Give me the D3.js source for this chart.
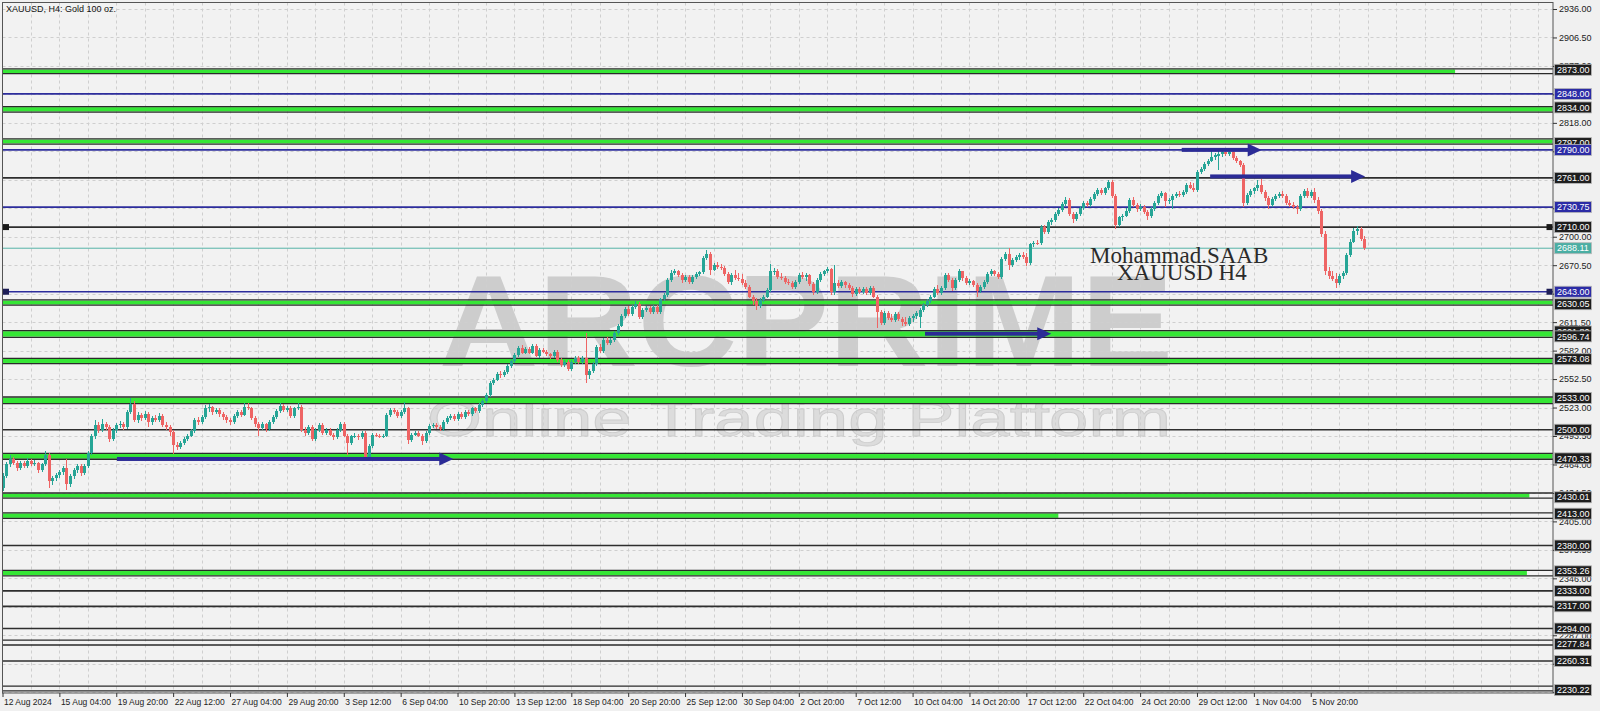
<!DOCTYPE html>
<html><head><meta charset="utf-8">
<script src="https://cdn.jsdelivr.net/npm/d3@7"></script>
<style>html,body{margin:0;padding:0;background:#f0f0f0;overflow:hidden}svg{display:block}</style>
</head><body>
<svg id="c" width="1600" height="711"></svg>
<script>
const title = "XAUUSD, H4:  Gold 100 oz.";
const timeLabels = ["12 Aug 2024","15 Aug 04:00","19 Aug 20:00","22 Aug 12:00","27 Aug 04:00","29 Aug 20:00","3 Sep 12:00","6 Sep 04:00","10 Sep 20:00","13 Sep 12:00","18 Sep 04:00","20 Sep 20:00","25 Sep 12:00","30 Sep 04:00","2 Oct 20:00","7 Oct 12:00","10 Oct 04:00","14 Oct 20:00","17 Oct 12:00","22 Oct 04:00","24 Oct 20:00","29 Oct 12:00","1 Nov 04:00","5 Nov 20:00"];
const barsPerLabel = 16;
const priceTicks = [2936.00,2906.50,2877.00,2847.50,2818.00,2788.50,2759.00,2729.50,2700.00,2670.50,2641.00,2611.50,2582.00,2552.50,2523.00,2493.50,2464.00,2434.50,2405.00,2375.50,2346.00,2316.50,2287.00,2257.50,2228.00];
// [open, high, low, close] per H4 bar
const ohlc = [
[2440,2455,2437,2452],[2452,2467,2450,2464],[2464,2474,2461,2470],[2470,2472,2463,2466],[2466,2468,2457,2460],[2460,2468,2458,2466],
[2466,2468,2460,2462],[2462,2471,2460,2468],[2468,2470,2462,2464],[2464,2469,2462,2466],[2466,2467,2455,2458],[2458,2466,2456,2464],
[2464,2478,2462,2474],[2474,2476,2440,2447],[2447,2452,2443,2450],[2450,2455,2447,2453],[2453,2458,2450,2456],[2456,2462,2453,2460],
[2460,2470,2438,2444],[2444,2454,2441,2452],[2452,2460,2449,2458],[2458,2464,2455,2462],[2462,2464,2452,2455],[2455,2464,2453,2462],
[2462,2478,2460,2476],[2476,2496,2474,2493],[2493,2510,2490,2505],[2505,2508,2497,2500],[2500,2511,2498,2506],[2506,2508,2500,2503],
[2503,2505,2487,2490],[2490,2502,2488,2500],[2500,2507,2497,2505],[2505,2509,2502,2506],[2506,2508,2500,2503],[2503,2520,2501,2518],
[2518,2533,2516,2527],[2527,2530,2508,2510],[2510,2518,2507,2515],[2515,2517,2509,2512],[2512,2519,2510,2516],[2516,2518,2503,2508],
[2508,2514,2505,2512],[2512,2515,2508,2510],[2510,2517,2508,2514],[2514,2516,2503,2505],[2505,2508,2500,2503],[2503,2505,2494,2498],
[2498,2500,2475,2484],[2484,2487,2479,2482],[2482,2488,2480,2486],[2486,2492,2484,2490],[2490,2496,2488,2494],[2494,2501,2492,2499],
[2499,2512,2497,2510],[2510,2513,2505,2508],[2508,2515,2506,2513],[2513,2526,2511,2522],[2522,2527,2518,2524],[2524,2525,2515,2518],
[2518,2523,2516,2520],[2520,2522,2513,2516],[2516,2518,2510,2513],[2513,2515,2507,2510],
[2510,2512,2505,2508],[2508,2516,2506,2514],[2514,2520,2512,2518],[2518,2520,2513,2515],[2515,2528,2514,2524],[2524,2528,2520,2522],
[2522,2524,2510,2512],[2512,2514,2503,2506],[2506,2508,2493,2502],[2502,2508,2500,2506],[2506,2507,2498,2501],[2501,2510,2499,2508],
[2508,2515,2506,2513],[2513,2521,2511,2519],[2519,2528,2517,2525],[2525,2527,2518,2520],[2520,2525,2518,2523],[2523,2525,2512,2514],
[2514,2524,2512,2522],[2522,2528,2520,2524],[2524,2526,2498,2500],[2500,2503,2494,2497],[2497,2505,2495,2503],[2503,2505,2488,2490],
[2490,2502,2488,2500],[2500,2507,2498,2505],[2505,2507,2495,2497],[2497,2502,2495,2500],[2500,2502,2493,2495],[2495,2497,2489,2492],
[2492,2502,2490,2500],[2500,2508,2498,2506],[2506,2508,2492,2494],[2494,2496,2474,2486],[2486,2495,2484,2493],[2493,2497,2491,2494],
[2494,2496,2489,2492],[2492,2499,2490,2497],[2497,2499,2470,2472],[2472,2485,2470,2483],[2483,2497,2481,2495],[2495,2497,2492,2494],
[2494,2496,2491,2493],[2493,2496,2491,2494],[2494,2517,2492,2515],[2515,2522,2513,2520],[2520,2522,2516,2518],[2518,2520,2512,2514],
[2514,2520,2512,2518],[2518,2529,2516,2522],[2522,2524,2485,2489],[2489,2497,2487,2495],[2495,2499,2493,2497],[2497,2499,2492,2494],
[2494,2496,2484,2488],[2488,2499,2486,2497],[2497,2506,2495,2504],[2504,2507,2502,2505],[2505,2507,2501,2503],[2503,2505,2499,2501],
[2501,2510,2499,2508],[2508,2514,2506,2512],[2512,2516,2510,2514],
[2514,2516,2509,2511],[2511,2518,2509,2516],[2516,2518,2511,2513],[2513,2520,2511,2518],[2518,2520,2514,2516],[2516,2524,2514,2522],
[2522,2524,2517,2519],[2519,2528,2517,2526],[2526,2532,2524,2530],[2530,2538,2528,2536],[2536,2550,2534,2548],[2548,2554,2546,2552],
[2552,2560,2550,2558],[2558,2561,2554,2557],[2557,2562,2555,2560],[2560,2568,2558,2566],[2566,2573,2564,2571],[2571,2579,2569,2577],
[2577,2587,2575,2585],[2585,2588,2578,2580],[2580,2586,2578,2584],[2584,2586,2578,2580],[2580,2589,2578,2587],[2587,2589,2575,2576],
[2576,2585,2574,2583],[2583,2585,2579,2581],[2581,2583,2576,2578],[2578,2580,2573,2576],[2576,2583,2574,2581],[2581,2583,2570,2572],
[2572,2574,2565,2567],[2567,2572,2565,2570],[2570,2572,2561,2563],[2563,2572,2561,2570],[2570,2576,2568,2574],[2574,2576,2568,2570],
[2570,2576,2568,2574],[2574,2600,2548,2557],[2557,2563,2553,2561],[2561,2570,2559,2568],[2568,2588,2566,2586],[2586,2589,2580,2582],
[2582,2595,2580,2593],[2593,2596,2588,2590],[2590,2595,2588,2593],[2593,2602,2591,2600],[2600,2610,2598,2608],[2608,2620,2606,2618],
[2618,2627,2616,2625],[2625,2628,2618,2620],[2620,2629,2618,2627],[2627,2633,2625,2630],[2630,2632,2615,2617],[2617,2626,2615,2624],
[2624,2628,2622,2626],[2626,2628,2620,2622],[2622,2629,2620,2627],[2627,2629,2620,2622],[2622,2637,2620,2635],[2635,2642,2633,2640],
[2640,2657,2638,2655],[2655,2666,2653,2662],[2662,2667,2660,2664],[2664,2666,2658,2660],
[2660,2662,2652,2655],[2655,2660,2653,2658],[2658,2660,2651,2653],[2653,2660,2651,2658],[2658,2663,2656,2661],[2661,2665,2659,2663],
[2663,2680,2661,2678],[2678,2686,2676,2682],[2682,2684,2660,2666],[2666,2673,2664,2671],[2671,2674,2667,2669],[2669,2672,2666,2668],
[2668,2670,2659,2661],[2661,2663,2651,2653],[2653,2662,2650,2660],[2660,2666,2655,2657],[2657,2662,2654,2656],[2656,2661,2650,2652],
[2652,2655,2646,2648],[2648,2650,2636,2638],[2638,2640,2629,2633],[2633,2636,2624,2628],[2628,2636,2626,2634],[2634,2640,2632,2638],
[2638,2647,2636,2645],[2645,2672,2643,2664],[2664,2668,2660,2665],[2665,2667,2656,2658],[2658,2662,2655,2657],[2657,2659,2651,2653],
[2653,2656,2650,2652],[2652,2654,2646,2648],[2648,2655,2646,2653],[2653,2662,2651,2660],[2660,2663,2656,2658],[2658,2662,2654,2660],
[2660,2661,2649,2651],[2651,2653,2640,2643],[2643,2657,2641,2655],[2655,2663,2653,2661],[2661,2666,2659,2664],[2664,2669,2662,2667],
[2667,2668,2640,2643],[2643,2671,2640,2652],[2652,2655,2647,2649],[2649,2655,2647,2653],[2653,2654,2647,2650],[2650,2652,2645,2647],
[2647,2649,2638,2641],[2641,2648,2639,2646],[2646,2648,2641,2643],[2643,2648,2641,2646],[2646,2648,2640,2642],[2642,2649,2640,2647],
[2647,2649,2636,2638],[2638,2640,2605,2622],[2622,2624,2609,2611],[2611,2623,2609,2621],[2621,2623,2614,2616],[2616,2620,2612,2614],
[2614,2622,2612,2620],[2620,2622,2613,2615],[2615,2617,2608,2612],[2612,2617,2607,2610],
[2610,2618,2608,2616],[2616,2620,2612,2618],[2618,2623,2615,2621],[2617,2626,2605,2624],[2624,2631,2622,2629],[2629,2635,2627,2633],
[2633,2640,2631,2638],[2638,2648,2636,2646],[2646,2650,2640,2642],[2642,2649,2640,2647],[2647,2662,2645,2660],[2660,2662,2653,2655],
[2655,2657,2644,2647],[2647,2657,2645,2655],[2655,2667,2653,2664],[2664,2665,2654,2657],[2657,2659,2650,2652],[2652,2656,2650,2654],
[2654,2655,2648,2650],[2650,2652,2638,2644],[2644,2650,2642,2648],[2648,2655,2646,2653],[2653,2663,2651,2661],[2661,2667,2659,2665],
[2665,2666,2659,2661],[2661,2663,2656,2658],[2658,2679,2656,2677],[2677,2684,2675,2682],[2682,2688,2666,2671],[2671,2678,2669,2676],
[2676,2681,2674,2679],[2679,2683,2676,2681],[2681,2684,2677,2679],[2679,2683,2670,2673],[2673,2694,2671,2692],[2692,2696,2689,2694],
[2694,2697,2691,2693],[2693,2712,2691,2710],[2710,2712,2703,2705],[2705,2717,2703,2715],[2715,2719,2712,2717],[2717,2726,2715,2724],
[2724,2730,2722,2728],[2728,2736,2726,2734],[2734,2741,2732,2738],[2738,2740,2722,2724],[2724,2726,2714,2718],[2718,2726,2716,2724],
[2724,2732,2722,2730],[2730,2737,2728,2735],[2735,2737,2731,2733],[2733,2741,2731,2739],[2739,2746,2737,2744],[2744,2750,2742,2748],
[2748,2750,2743,2745],[2745,2752,2743,2750],[2750,2759,2748,2757],[2757,2759,2740,2742],[2742,2744,2708,2712],[2712,2722,2710,2720],
[2720,2724,2716,2722],[2722,2730,2720,2727],
[2727,2740,2725,2738],[2738,2741,2731,2733],[2733,2735,2726,2729],[2729,2734,2727,2731],[2731,2733,2724,2726],[2726,2728,2717,2721],
[2721,2731,2719,2729],[2729,2737,2727,2735],[2735,2744,2733,2742],[2742,2747,2740,2745],[2745,2746,2731,2737],[2737,2740,2734,2738],
[2738,2744,2729,2742],[2742,2746,2740,2744],[2744,2747,2741,2743],[2743,2748,2741,2746],[2746,2756,2744,2754],[2754,2757,2749,2751],
[2751,2756,2746,2748],[2748,2769,2746,2767],[2767,2772,2765,2770],[2770,2777,2768,2775],[2775,2781,2773,2779],[2779,2790,2777,2783],
[2783,2787,2780,2785],[2784,2789,2769,2786],[2786,2790,2783,2788],[2788,2790,2784,2786],[2786,2790,2784,2788],[2788,2789,2780,2782],
[2782,2784,2776,2778],[2778,2780,2772,2774],[2774,2776,2731,2735],[2735,2745,2733,2743],[2743,2749,2741,2747],[2747,2752,2744,2750],
[2750,2759,2747,2754],[2754,2760,2744,2746],[2746,2748,2737,2740],[2740,2742,2729,2733],[2733,2741,2731,2739],[2739,2744,2737,2742],
[2742,2746,2740,2744],[2744,2747,2740,2742],[2742,2744,2733,2735],[2735,2738,2731,2733],[2733,2736,2729,2731],[2731,2733,2724,2729],
[2729,2744,2727,2742],[2742,2749,2740,2747],[2747,2750,2740,2742],[2742,2748,2740,2746],[2746,2750,2735,2738],[2738,2741,2724,2727],
[2727,2729,2700,2703],[2703,2706,2660,2664],[2664,2669,2656,2659],[2659,2664,2654,2656],[2656,2662,2647,2652],[2652,2661,2650,2659],
[2659,2664,2656,2662],[2662,2683,2660,2681],[2681,2698,2679,2695],[2695,2709,2693,2706],[2706,2711,2702,2708],[2708,2710,2696,2698],
[2698,2701,2686,2688.11]
];
// support / resistance zones (two lines with green fill between)
const zoneHigh = [2873.00,2834.00,2800.40,2633.60,2601.80,2573.08,2533.00,2474.50,2433.50,2413.00,2353.26,2281.00,2233.40];
const zoneLow  = [2870.00,2830.05,2797.00,2630.05,2596.74,2569.50,2528.00,2470.33,2430.01,2409.00,2349.50,2277.84,2230.22];
const zoneGreenTo = [408.6,436,436,436,436,436,436,436,429.5,297,428.8,0,0];
const blackLevels = [2761.00,2710.00,2500.00,2380.00,2333.00,2317.00,2294.00,2260.31];
const blueLevels = [2848.00,2790.00,2730.75,2643.00];
const markedLevels = [2710.00,2643.00];
const bidPrice = 2688.11;
const blackLabels = [2873.00,2834.00,2797.00,2761.00,2710.00,2630.05,2601.80,2596.74,2573.08,2533.00,2500.00,2470.33,2430.01,2413.00,2380.00,2353.26,2333.00,2317.00,2294.00,2277.84,2260.31,2230.22];
const arrowPrice = [2469.7,2599.5,2790.0,2762.5];
const arrowFrom = [32.2,259.5,331.7,339.7];
const arrowTo = [126.8,295.0,354.2,383.3];
const watermark = "ARCPRIME", watermarkSub = "Online Trading Platform";
const authorLines = ["Mohammad.SAAB","XAUUSD H4"];

const svg = d3.select("#c");
const L = 2.5, R = 1553, T = 2.5, B = 693;
const x = d3.scaleLinear().domain([0,436]).range([2.5, 2.5 + 436*3.555]);
const y = d3.scaleLinear().domain([2936,2228]).range([9, 692.2]);
const fmt = d3.format(".2f");
const FONT = "'Liberation Sans', Arial, sans-serif";

svg.append("rect").attr("width",1600).attr("height",711).attr("fill","#f0f0f0");
svg.append("defs").append("clipPath").attr("id","plot").append("rect")
  .attr("x",L).attr("y",T).attr("width",R-L).attr("height",B-T);
const plot = svg.append("g").attr("clip-path","url(#plot)");
plot.append("rect").attr("x",L).attr("y",T).attr("width",R-L).attr("height",B-T).attr("fill","#f2f2f2");

// watermark
plot.append("text").attr("x",439).attr("y",366).attr("textLength",734).attr("lengthAdjust","spacingAndGlyphs")
  .attr("font-family",FONT).attr("font-weight","bold").attr("font-size",130).attr("fill","#cdcdcd").text(watermark);
plot.append("text").attr("x",427).attr("y",436).attr("textLength",744).attr("lengthAdjust","spacingAndGlyphs")
  .attr("font-family",FONT).attr("font-size",50).attr("fill","#dcdcdc").attr("stroke","#cdcdcd").attr("stroke-width",0.8).text(watermarkSub);

// grid
const vGrid = d3.range(8, 437, 8);
plot.append("g").selectAll("line").data(vGrid).join("line")
  .attr("x1",d=>Math.round(x(d))+0.5).attr("x2",d=>Math.round(x(d))+0.5).attr("y1",T).attr("y2",B)
  .attr("stroke","#cfcfcf").attr("stroke-dasharray","3,3");
plot.append("g").selectAll("line").data(priceTicks).join("line")
  .attr("x1",L).attr("x2",R).attr("y1",d=>Math.round(y(d))+0.5).attr("y2",d=>Math.round(y(d))+0.5)
  .attr("stroke","#cfcfcf").attr("stroke-dasharray","3,3");

// zones
const zones = zoneHigh.map((h,i)=>({h, l:zoneLow[i], g:zoneGreenTo[i]}));
const zg = plot.append("g");
zg.selectAll("rect").data(zones.filter(z=>z.g>0)).join("rect")
  .attr("x",L).attr("width",z=>x(z.g)-L).attr("y",z=>y(z.h)-0.3).attr("height",z=>y(z.l)-y(z.h)+0.6)
  .attr("fill","#35e635");
const zoneEdges = zones.flatMap(z=>[{p:z.h,off:-0.9},{p:z.l,off:0.9}]);
zg.selectAll("line").data(zoneEdges).join("line")
  .attr("x1",L).attr("x2",R).attr("y1",d=>y(d.p)+d.off).attr("y2",d=>y(d.p)+d.off)
  .attr("stroke","#2a2a2a").attr("stroke-width",1.3);

// black and blue levels
plot.append("g").selectAll("line").data(blackLevels).join("line")
  .attr("x1",L).attr("x2",R).attr("y1",d=>y(d)).attr("y2",d=>y(d))
  .attr("stroke","#2e2e2e").attr("stroke-width",1.7);
plot.append("g").selectAll("line").data(blueLevels).join("line")
  .attr("x1",L).attr("x2",R).attr("y1",d=>y(d)).attr("y2",d=>y(d))
  .attr("stroke","#2d2d9c").attr("stroke-width",1.7);
plot.append("line").attr("x1",L).attr("x2",R).attr("y1",y(bidPrice)).attr("y2",y(bidPrice))
  .attr("stroke","#55b3a8").attr("stroke-width",1);
// selection markers
const mk = plot.append("g");
markedLevels.forEach(p=>{
  const c = blueLevels.includes(p) ? "#1d1d55" : "#1a1a1a";
  mk.append("rect").attr("x",L+0.5).attr("y",y(p)-3).attr("width",6).attr("height",6).attr("fill",c);
  mk.append("rect").attr("x",R-6.5).attr("y",y(p)-3).attr("width",6).attr("height",6).attr("fill",c);
});

// candles
const cg = plot.append("g").attr("shape-rendering","crispEdges");
const bars = ohlc.map((d,i)=>({i,o:d[0],h:d[1],l:d[2],c:d[3]}));
const col = d=> d.c>=d.o ? "#26a596" : "#ee6464";
cg.selectAll("line").data(bars).join("line")
  .attr("x1",d=>Math.round(x(d.i))+0.5).attr("x2",d=>Math.round(x(d.i))+0.5)
  .attr("y1",d=>y(d.h)).attr("y2",d=>y(d.l)).attr("stroke",col);
cg.selectAll("rect").data(bars).join("rect")
  .attr("x",d=>Math.round(x(d.i))-1).attr("width",3)
  .attr("y",d=>y(Math.max(d.o,d.c))).attr("height",d=>Math.max(1,Math.abs(y(d.o)-y(d.c))))
  .attr("fill",col);

// arrows
const ag = plot.append("g");
arrowPrice.forEach((p,i)=>{
  const x0 = x(arrowFrom[i]), x1 = x(arrowTo[i]), yy = y(p);
  ag.append("rect").attr("x",x0).attr("y",yy-2).attr("width",x1-x0-12).attr("height",4).attr("fill","#2b2b96");
  ag.append("path").attr("d",`M${x1-14},${yy-6.5}L${x1},${yy}L${x1-14},${yy+6.5}Z`).attr("fill","#2b2b96");
});

// author text
const at = plot.append("g").attr("font-family","'Liberation Serif','Times New Roman',serif").attr("font-size",23).attr("fill","#2b2b2b");
at.append("text").attr("x",1090).attr("y",263).text(authorLines[0]);
at.append("text").attr("x",1117).attr("y",280).text(authorLines[1]);

// title
svg.append("text").attr("x",6).attr("y",11.5).attr("font-family",FONT).attr("font-size",9).attr("fill","#111").text(title);

// frame
svg.append("rect").attr("x",L).attr("y",T).attr("width",R-L).attr("height",B-T).attr("fill","none").attr("stroke","#555").attr("stroke-width",1);

// right axis (tick labels fully covered by a level label are not printed)
const allLabelPrices = blackLabels.concat(blueLevels,[bidPrice]);
const covered = t => allLabelPrices.some(p => Math.abs(y(p)-y(t)) < 3.2);
const ra = svg.append("g").attr("transform",`translate(${R},0)`)
  .call(d3.axisRight(y).tickValues(priceTicks).tickFormat(t => covered(t) ? "" : fmt(t)).tickSize(4).tickPadding(2));
ra.select(".domain").remove();
ra.selectAll("line").attr("stroke","#333");
ra.selectAll("text").attr("font-family",FONT).attr("font-size",9).attr("fill","#222");

// bottom axis
const tIdx = timeLabels.map((_,i)=>i*barsPerLabel);
const ba = svg.append("g").attr("transform",`translate(0,${B})`)
  .call(d3.axisBottom(x).tickValues(tIdx).tickFormat((d,i)=>timeLabels[i]).tickSize(4));
ba.select(".domain").remove();
ba.selectAll("line").attr("stroke","#333");
ba.selectAll("text").attr("font-family",FONT).attr("font-size",8.5).attr("fill","#222")
  .attr("text-anchor","start").attr("x",1).attr("y",6);

// price labels
function priceLabel(g, p, fill){
  const yy = y(p);
  g.append("rect").attr("x",R+1.5).attr("y",yy-5.5).attr("width",37).attr("height",11)
    .attr("fill",fill).attr("stroke","#b8b8b8").attr("stroke-width",0.8);
  g.append("text").attr("x",R+4).attr("y",yy).attr("dy","0.35em").attr("font-family",FONT)
    .attr("font-size",9).attr("fill","#fff").text(fmt(p));
}
const lg = svg.append("g");
blackLabels.forEach(p=>priceLabel(lg,p,"#1e1e1e"));
blueLevels.forEach(p=>priceLabel(lg,p,"#2c2ca6"));
priceLabel(lg,bidPrice,"#4aaea3");
</script>
</body></html>
